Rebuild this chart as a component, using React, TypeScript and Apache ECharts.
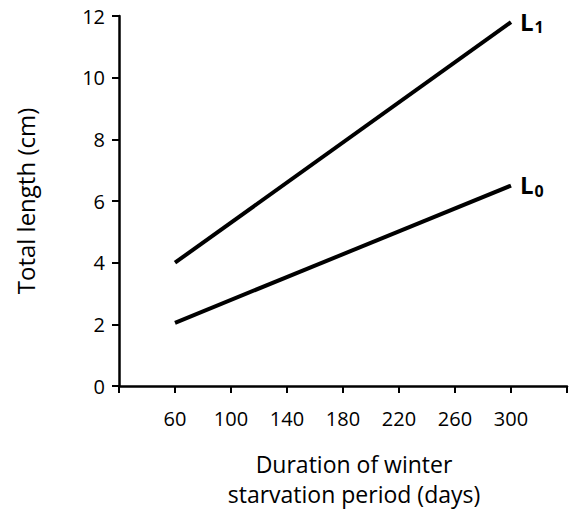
import React, { useEffect, useRef } from "react";
import * as echarts from "echarts";

const xMin = 20;
const xMax = 340;
const xTickStep = 40;
const xLabelValues = [60, 100, 140, 180, 220, 260, 300];
const yTickStep = 2;
const yMax = 12;
const seriesL1 = [
  [60, 4.0],
  [300, 11.8],
];
const seriesL0 = [
  [60, 2.05],
  [300, 6.5],
];
const xTitle = "Duration of winter\nstarvation period (days)";
const yTitle = "Total length (cm)";

const FONT = "Open Sans";

export default function App() {
  const ref = useRef<HTMLDivElement>(null);
  useEffect(() => {
    document.body.style.margin = "0";
    const chart = echarts.init(ref.current!, undefined, { renderer: "svg" });
    const endLabel = (sub: string) => ({
      show: true,
      formatter: () => `{a|L}{b|${sub}}`,
      distance: 9,
      offset: [0, -1],
      rich: {
        a: { fontFamily: FONT, fontWeight: "bold", fontSize: 24, color: "#000" },
        b: {
          fontFamily: FONT,
          fontWeight: "bold",
          fontSize: 16,
          color: "#000",
          verticalAlign: "bottom",
          padding: [12, 0, 0, 1],
        },
      },
    });
    chart.setOption({
      animation: false,
      backgroundColor: "#fff",
      grid: { left: 119, top: 16, width: 456, height: 376, containLabel: false },
      xAxis: {
        type: "value",
        min: xMin,
        max: xMax,
        interval: xTickStep,
        axisLine: { show: true, lineStyle: { color: "#000", width: 2.5 } },
        axisTick: { show: true, length: 7, lineStyle: { color: "#000", width: 2 } },
        splitLine: { show: false },
        axisLabel: {
          margin: 22,
          fontFamily: FONT,
          fontSize: 20,
          color: "#000",
          formatter: (v: number) => (xLabelValues.includes(v) ? String(v) : ""),
        },
        name: xTitle,
        nameLocation: "middle",
        nameGap: 63,
        nameTextStyle: {
          fontFamily: FONT,
          fontSize: 23,
          color: "#000",
          lineHeight: 30,
          padding: [0, 0, 0, 22],
        },
      },
      yAxis: {
        type: "value",
        min: 0,
        max: yMax,
        interval: yTickStep,
        axisLine: { show: true, lineStyle: { color: "#000", width: 2.5 } },
        axisTick: { show: true, length: 7, lineStyle: { color: "#000", width: 2 } },
        splitLine: { show: false },
        axisLabel: { margin: 14, fontFamily: FONT, fontSize: 20, color: "#000" },
        name: yTitle,
        nameLocation: "middle",
        nameGap: 82,
        nameTextStyle: { fontFamily: FONT, fontSize: 24, color: "#000" },
      },
      series: [
        {
          type: "line",
          data: seriesL1,
          symbol: "none",
          lineStyle: { color: "#000", width: 4 },
          endLabel: endLabel("1"),
        },
        {
          type: "line",
          data: seriesL0,
          symbol: "none",
          lineStyle: { color: "#000", width: 4 },
          endLabel: endLabel("0"),
        },
      ],
    });
    return () => chart.dispose();
  }, []);
  return <div ref={ref} style={{ width: 570, height: 514 }} />;
}
